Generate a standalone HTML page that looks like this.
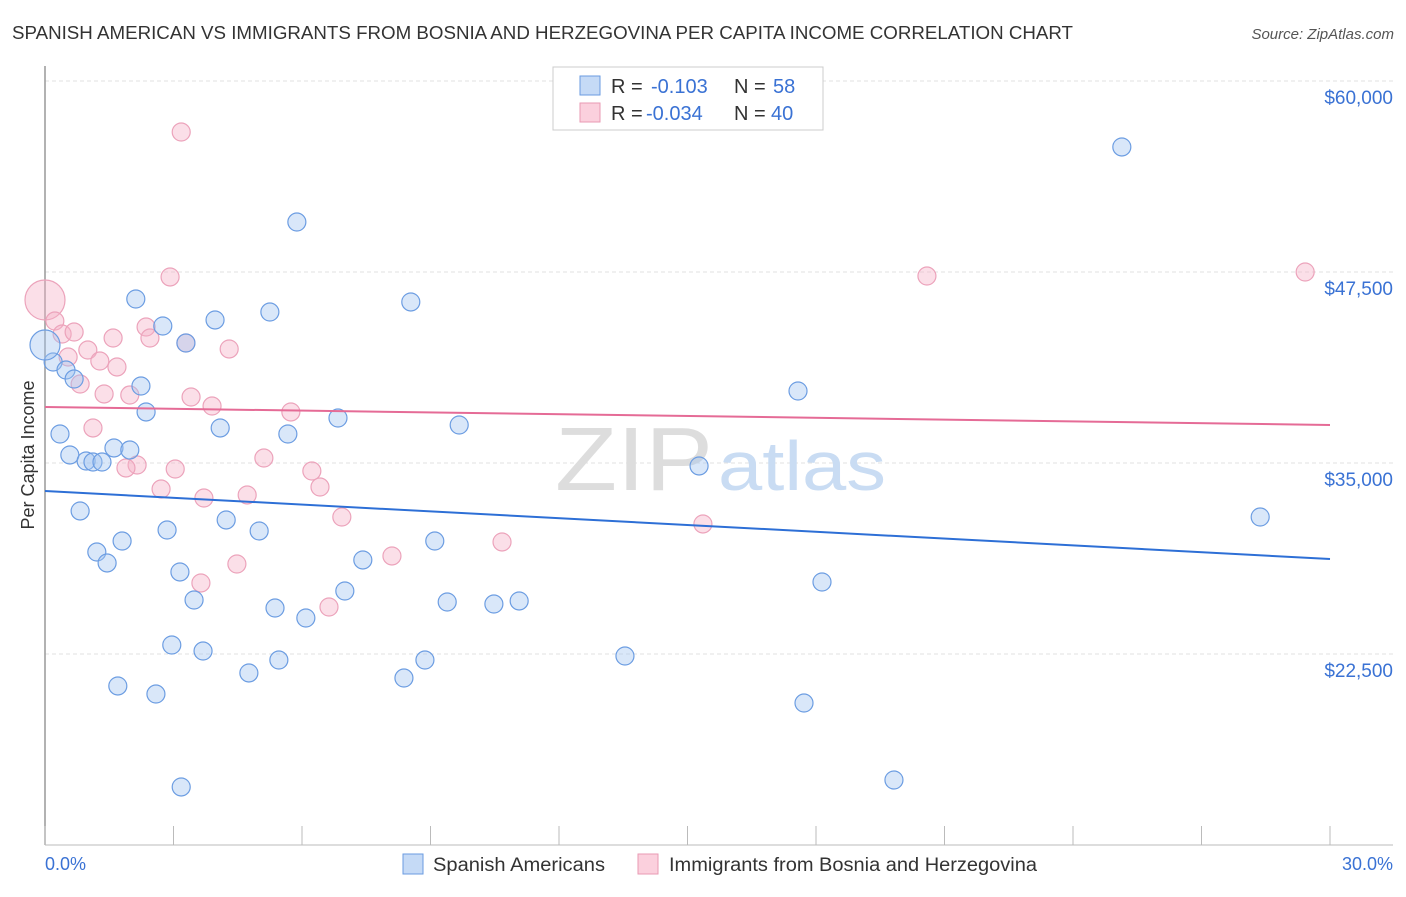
<!DOCTYPE html>
<html><head><meta charset="utf-8"><style>
body{margin:0;background:#fff;font-family:"Liberation Sans",sans-serif}
svg text{font-family:"Liberation Sans",sans-serif}
</style></head><body>
<svg id="chart" width="1406" height="892" viewBox="0 0 1406 892">
<text x="12" y="39" font-size="18" fill="#333" textLength="1061" lengthAdjust="spacingAndGlyphs">SPANISH AMERICAN VS IMMIGRANTS FROM BOSNIA AND HERZEGOVINA PER CAPITA INCOME CORRELATION CHART</text>
<text x="1394" y="39" font-size="15" fill="#555" font-style="italic" text-anchor="end">Source: ZipAtlas.com</text>
<g id="grid"></g>
<text x="555" y="490" font-size="90" fill="#ddd" textLength="158" lengthAdjust="spacingAndGlyphs" font-family="Liberation Serif">ZIP</text>
<text x="718" y="490" font-size="70" fill="#c9dcf3" textLength="168" lengthAdjust="spacingAndGlyphs">atlas</text>
<line x1="45" y1="66" x2="45" y2="845" stroke="#999" stroke-width="1.5"/>
<line x1="45" y1="845" x2="1393" y2="845" stroke="#bbb" stroke-width="1"/>
<g id="xticks"></g>
<text transform="translate(34,455) rotate(-90)" font-size="18" fill="#333" text-anchor="middle">Per Capita Income</text>
<text x="45" y="870" font-size="18" fill="#3a72d4">0.0%</text>
<text x="1393" y="870" font-size="18" fill="#3a72d4" text-anchor="end">30.0%</text>
<g id="points"></g>
<g id="lines"></g>
<g>
<rect x="553" y="67" width="270" height="63" fill="#fff" stroke="#ccc"/>
<rect x="580" y="76" width="20" height="19" fill="#c5daf6" stroke="#6a9be0"/>
<rect x="580" y="103" width="20" height="19" fill="#fbd0dd" stroke="#e89ab3"/>
<text x="611" y="93" font-size="20" fill="#333">R = <tspan x="651" fill="#3a72d4">-0.103</tspan><tspan x="734">N = </tspan><tspan x="773" fill="#3a72d4">58</tspan></text>
<text x="611" y="120" font-size="20" fill="#333">R = <tspan x="646" fill="#3a72d4">-0.034</tspan><tspan x="734">N = </tspan><tspan x="771" fill="#3a72d4">40</tspan></text>
</g>
<g>
<rect x="403" y="854" width="20" height="20" fill="#c5daf6" stroke="#6a9be0"/>
<text x="433" y="871" font-size="19" fill="#333" textLength="172" lengthAdjust="spacingAndGlyphs">Spanish Americans</text>
<rect x="638" y="854" width="20" height="20" fill="#fbd0dd" stroke="#e89ab3"/>
<text x="669" y="871" font-size="19" fill="#333" textLength="368" lengthAdjust="spacingAndGlyphs">Immigrants from Bosnia and Herzegovina</text>
</g>
</svg>
<script>
const yTicks=[22500,35000,47500,60000];
const yTickLabels=["$22,500","$35,000","$47,500","$60,000"];
const xTicks=[0,3,6,9,12,15,18,21,24,27,30];
const blueX=[25.14,5.88,2.12,5.25,8.54,2.75,3.97,3.29,0.19,0.49,0.68,2.24,17.58,2.36,6.84,9.67,4.09,5.67,0.35,0.58,1.61,1.98,0.96,1.12,1.33,15.27,0.82,28.37,4.23,2.85,5.0,1.8,9.1,1.21,1.45,7.42,3.15,18.14,7.0,3.48,9.39,10.48,11.07,5.37,6.09,2.96,3.69,5.46,8.87,13.54,4.76,8.38,1.7,2.59,17.72,19.82,3.18,0.0];
const blueY=[55681,50772,45733,44882,45537,43966,44359,42853,41610,41086,40497,40039,39712,38338,37945,37487,37291,36898,36898,35524,35982,35851,35131,35065,35065,34804,31859,31466,31270,30615,30550,29895,29895,29175,28456,28652,27867,27212,26623,26034,25903,25772,25969,25510,24856,23089,22696,22107,22107,22369,21257,20929,20406,19882,19293,14254,13796,42722];
const pinkX=[0.0,3.18,2.92,20.59,29.42,0.23,0.40,0.68,2.36,2.45,1.59,3.29,4.30,1.00,0.54,1.28,1.68,0.82,1.38,1.98,3.41,3.90,5.74,1.12,5.11,2.15,1.89,3.04,6.23,6.42,2.71,3.71,4.72,6.93,15.36,10.67,8.10,3.64,4.48,6.63];
const pinkY=[45668,56662,47173,47238,47500,44293,43442,43573,43900,43180,43180,42853,42461,42395,41937,41675,41283,40170,39516,39450,39319,38730,38338,37291,35327,34869,34673,34607,34476,33429,33298,32709,32906,31466,31008,29830,28914,27147,28390,25576];
const blueTrend=[33168,28718];
const pinkTrend=[38665,37487];
const NS="http://www.w3.org/2000/svg";
const xs=v=>45+v/30*1285;
const ys=v=>654-(v-22500)*191/12500;
function mk(tag,attrs,parent){const e=document.createElementNS(NS,tag);for(const k in attrs)e.setAttribute(k,attrs[k]);parent.appendChild(e);return e;}
const grid=document.getElementById('grid');
yTicks.forEach((t,i)=>{
 const l=mk('line',{x1:45,x2:1393,y1:ys(t),y2:ys(t),stroke:'#e2e2e2','stroke-dasharray':'4,3'},grid);
 
 
 const tx=mk('text',{x:1393,y:ys(t)+23,'font-size':19,fill:'#3a72d4','text-anchor':'end'},grid);
 tx.textContent=yTickLabels[i];
 
 
});
const xt=document.getElementById('xticks');
xTicks.forEach(t=>{
 const l=mk('line',{x1:xs(t),x2:xs(t),y1:826,y2:845,stroke:'#bbb'},xt);
 
 
});
const pts=document.getElementById('points');
pinkX.forEach((x,i)=>{
 const c=mk('circle',{cx:xs(x),cy:ys(pinkY[i]),r:i===0?20:9,fill:'rgba(246,176,198,0.4)',stroke:'#eca3bb','stroke-width':1.2},pts);
 
 
});
blueX.forEach((x,i)=>{
 const c=mk('circle',{cx:xs(x),cy:ys(blueY[i]),r:i===blueX.length-1?15:9,fill:'rgba(160,196,240,0.4)',stroke:'#6c9de2','stroke-width':1.2},pts);
 
 
});
const ln=document.getElementById('lines');
const b=mk('line',{x1:xs(0),x2:xs(30),y1:ys(blueTrend[0]),y2:ys(blueTrend[1]),stroke:'#2d6fd6','stroke-width':2},ln);


const p=mk('line',{x1:xs(0),x2:xs(30),y1:ys(pinkTrend[0]),y2:ys(pinkTrend[1]),stroke:'#e56b96','stroke-width':2},ln);


</script>
</body></html>
